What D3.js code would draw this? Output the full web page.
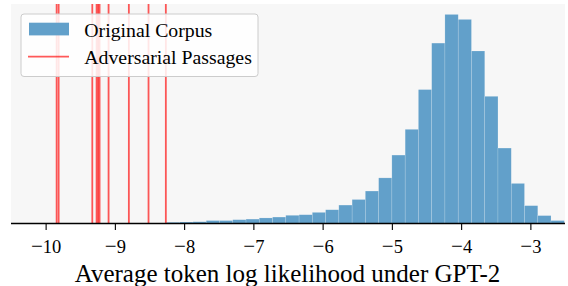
<!DOCTYPE html>
<html><head><meta charset="utf-8">
<script src="https://cdn.jsdelivr.net/npm/d3@7"></script>
<style>html,body{margin:0;padding:0;background:#fff}svg{display:block}text{font-family:"Liberation Serif","Times New Roman",serif;fill:#000}</style>
</head><body><svg id="c" width="568" height="286"></svg>
<script>
// Histogram bin left edges (x, log-likelihood), bin width ~0.1915
const binEdges = [-8.255,-8.064,-7.872,-7.681,-7.489,-7.298,-7.106,-6.915,-6.723,-6.532,
  -6.340,-6.149,-5.957,-5.766,-5.574,-5.383,-5.191,-5.000,-4.808,-4.617,
  -4.425,-4.234,-4.042,-3.851,-3.659,-3.468,-3.276,-3.085,-2.893,-2.702,-2.510];
// Density of the original corpus per bin
const corpusDensity = [0.004,0.005,0.006,0.010,0.010,0.013,0.015,0.019,0.022,0.028,
  0.030,0.038,0.047,0.063,0.082,0.111,0.156,0.234,0.322,0.458,
  0.617,0.715,0.698,0.590,0.435,0.258,0.137,0.061,0.027,0.010];
// Adversarial passage log likelihoods
const adversarial = [-9.841,-9.812,-9.326,-9.264,-9.242,-9.221,-9.091,-8.798,-8.514,-8.264];
const xTicks = [-10,-9,-8,-7,-6,-5,-4,-3];
const legendLabels = ["Original Corpus","Adversarial Passages"];
const xLabel = "Average token log likelihood under GPT-2";

const svg = d3.select("#c");
const L = 11, R = 565, T = 4, B = 223.5;
const x = d3.scaleLinear().domain([-10.5,-2.5]).range([L,R]);
const y = d3.scaleLinear().domain([0, d3.max(corpusDensity)*1.05]).range([B,T]);

svg.append("rect").attr("x",L).attr("y",T).attr("width",R-L).attr("height",B-T).attr("fill","#f7f7f7");

const bins = corpusDensity.map((d,i)=>({x0:binEdges[i],x1:binEdges[i+1],v:d}));
svg.append("clipPath").attr("id","clipPlot").append("rect").attr("x",L).attr("y",T).attr("width",R-L).attr("height",B-T);
const g = svg.append("g").attr("clip-path","url(#clipPlot)");
g.selectAll("rect.bar").data(bins).join("rect").attr("class","bar")
  .attr("x",d=>x(d.x0)).attr("width",d=>x(d.x1)-x(d.x0))
  .attr("y",d=>y(d.v)).attr("height",d=>y(0)-y(d.v))
  .attr("fill","#62a0ca").attr("stroke","rgba(255,255,255,0.25)").attr("stroke-width",0.6);

g.selectAll("line.adv").data(adversarial).join("line").attr("class","adv")
  .attr("x1",d=>x(d)).attr("x2",d=>x(d)).attr("y1",T).attr("y2",B)
  .attr("stroke","#ff0000").attr("stroke-opacity",0.65).attr("stroke-width",1.8);

const ax = svg.append("g").attr("transform",`translate(0,${B})`)
  .call(d3.axisBottom(x).tickValues(xTicks).tickSize(6.5).tickPadding(5).tickFormat(""));
ax.select(".domain").attr("stroke","#000").attr("stroke-width",1.3).attr("d",`M${L},0H${R}`);
ax.selectAll(".tick line").attr("stroke","#000").attr("stroke-width",1.1);
ax.selectAll(".tick text").each(function(d){
  const t = d3.select(this).text(null).attr("y",null).attr("dy",null).attr("font-size",18.5)
    .attr("font-family","Liberation Serif").attr("fill","#000").attr("y",29.5);
  t.append("tspan").attr("font-size",21).text("\u2212");
  t.append("tspan").text(String(Math.abs(d)));
});

svg.append("text").attr("x",287.5).attr("y",281.5).attr("text-anchor","middle").attr("font-size",25).text(xLabel);

// legend
const lg = svg.append("g");
lg.append("rect").attr("x",21).attr("y",14).attr("width",237).attr("height",62.5).attr("rx",3)
  .attr("fill","rgba(255,255,255,0.85)").attr("stroke","#cccccc").attr("stroke-width",1);
lg.append("rect").attr("x",29).attr("y",22.7).attr("width",40).attr("height",12.7).attr("fill","#62a0ca");
lg.append("line").attr("x1",28).attr("x2",69).attr("y1",56.7).attr("y2",56.7).attr("stroke","#ff0000").attr("stroke-opacity",0.65).attr("stroke-width",1.8);
lg.selectAll("text.lt").data(legendLabels).join("text").attr("class","lt")
  .attr("x",84.3).attr("y",(d,i)=>[36.7,64.3][i]).attr("font-size",19.8).text(d=>d);
</script></body></html>
